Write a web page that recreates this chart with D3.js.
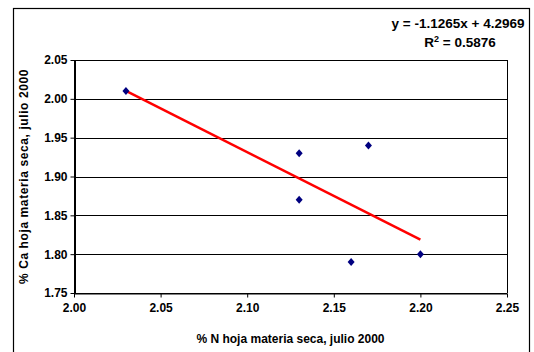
<html>
<script src='https://d3js.org/d3.v7.min.js'></script>
<style>
body {margin:0; background:white;}
text {font-family: Arial, "Liberation Sans", sans-serif; font-weight: bold; fill: black;}
</style>
<body>
<svg width=534 height=352></svg>
<script>

// data
var nLeaf = [2.03, 2.13, 2.13, 2.17, 2.16, 2.20];
var caLeaf = [2.01, 1.93, 1.87, 1.94, 1.79, 1.80];
var xTicks = [2.00, 2.05, 2.10, 2.15, 2.20, 2.25];
var yTicks = [1.75, 1.80, 1.85, 1.90, 1.95, 2.00, 2.05];
var slope = -1.1265, intercept = 4.2969;
var eqLine1 = "y = -1.1265x + 4.2969";
var r2Value = "0.5876";
var xTitle = "% N hoja materia seca, julio 2000";
var yTitle = "% Ca hoja materia seca, julio 2000";

var margin = {top: 60, right: 27, bottom: 59, left: 74},
    width = 534 - margin.left - margin.right,
    height = 352 - margin.top - margin.bottom;

var svg = d3.select("svg");

// chart border (open at the bottom like the source)
svg.append("rect")
  .attr("x", 13.5).attr("y", 8.5)
  .attr("width", 516).attr("height", 360)
  .attr("fill", "white").attr("stroke", "black").attr("stroke-width", 1.2);

var xScale = d3.scaleLinear().domain([2.00, 2.25]).range([0, width]);
var yScale = d3.scaleLinear().domain([1.75, 2.05]).range([height, 0]);

var g = svg.append("g").attr("transform", "translate(" + margin.left + "," + margin.top + ")");

// gridlines
g.append("g").selectAll("line")
  .data(yTicks)
  .enter()
  .append("line")
  .attr("x1", 0).attr("x2", width)
  .attr("y1", d => Math.round(yScale(d)) + 0.5)
  .attr("y2", d => Math.round(yScale(d)) + 0.5)
  .attr("stroke", "black").attr("stroke-width", 1);

// right edge of plot area
g.append("line")
  .attr("x1", width + 0.5).attr("x2", width + 0.5)
  .attr("y1", 0).attr("y2", height)
  .attr("stroke", "black");

// x axis
var xAxis = g.append("g").attr("transform", "translate(0," + (height + 0.5) + ")")
  .call(d3.axisBottom(xScale).tickValues(xTicks).tickFormat(d3.format(".2f")).tickSizeInner(4).tickSizeOuter(0).tickPadding(6));
xAxis.select(".domain").attr("stroke", "black");
xAxis.selectAll("text").style("font-size", "12px").style("font-family", "Arial, 'Liberation Sans', sans-serif").style("font-weight", "bold").attr("fill", "black");

// y axis
var yAxis = g.append("g").attr("transform", "translate(0.5,0)")
  .call(d3.axisLeft(yScale).tickValues(yTicks).tickFormat(d3.format(".2f")).tickSizeInner(4).tickSizeOuter(0).tickPadding(3));
yAxis.select(".domain").attr("stroke", "black").attr("stroke-width", 2);
yAxis.selectAll("text").style("font-size", "12px").style("font-family", "Arial, 'Liberation Sans', sans-serif").style("font-weight", "bold").attr("fill", "black");

// trend line
var xExt = d3.extent(nLeaf);
var trend = xExt.map(x => [x, slope * x + intercept]);
g.append("path")
  .datum(trend)
  .attr("d", d3.line().x(d => xScale(d[0])).y(d => yScale(d[1])))
  .style("fill", "none").style("stroke", "#FF0000").style("stroke-width", 2.5);

// points
var pts = nLeaf.map((x, i) => ({x: x, y: caLeaf[i]}));
g.append("g").selectAll("path")
  .data(pts)
  .enter()
  .append("path")
  .attr("transform", d => "translate(" + xScale(d.x) + "," + yScale(d.y) + ")")
  .attr("d", "M0,-4L3.5,0L0,4L-3.5,0Z")
  .attr("fill", "#000080");

// equation label
svg.append("text")
  .attr("x", 458).attr("y", 27.5)
  .style("text-anchor", "middle").style("font-size", "13.5px")
  .text(eqLine1);
var r2 = svg.append("text")
  .attr("x", 460).attr("y", 46.5)
  .style("text-anchor", "middle").style("font-size", "13.5px");
r2.append("tspan").text("R");
r2.append("tspan").attr("dy", -5).style("font-size", "9px").text("2");
r2.append("tspan").attr("dy", 5).text(" = " + r2Value);

// axis titles
svg.append("text")
  .attr("x", margin.left + width / 2).attr("y", 343)
  .style("text-anchor", "middle").style("font-size", "12px")
  .text(xTitle);

svg.append("text")
  .attr("transform", "rotate(-90)")
  .attr("x", -(margin.top + height / 2)).attr("y", 28)
  .style("text-anchor", "middle").style("font-size", "12px").style("letter-spacing", "0.6px")
  .text(yTitle);

</script>
</body>
</html>
